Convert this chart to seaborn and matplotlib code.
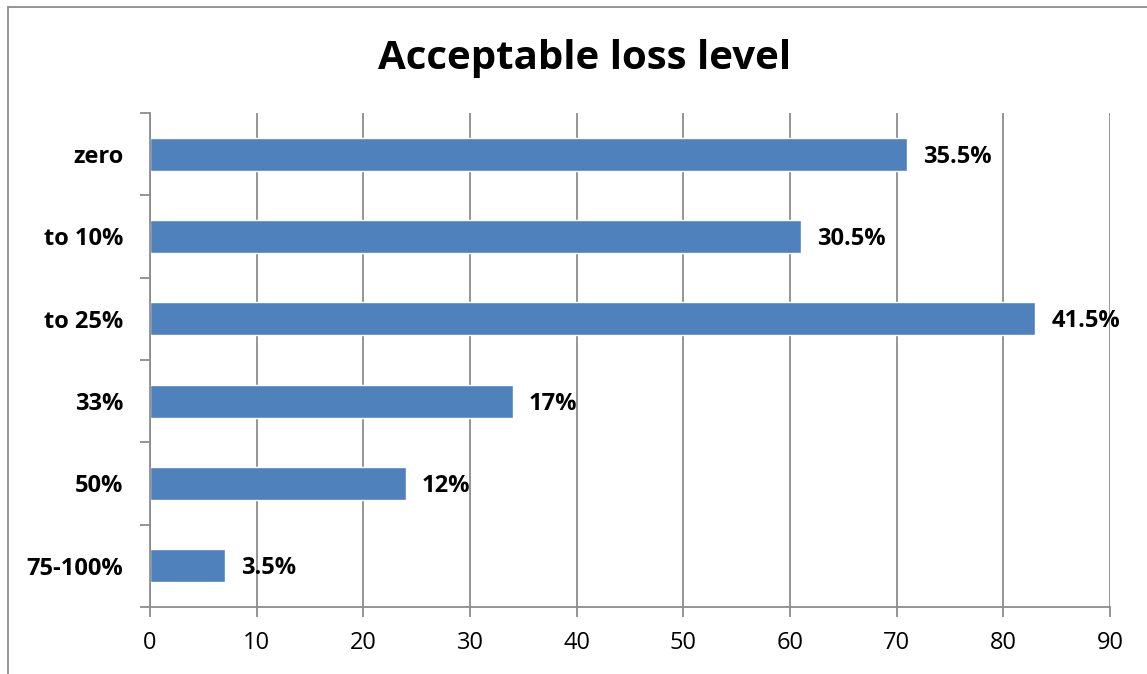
import matplotlib
matplotlib.use("Agg")
import matplotlib.pyplot as plt
from matplotlib.patches import Rectangle
import seaborn as sns
import pandas as pd

categories = ["zero", "to 10%", "to 25%", "33%", "50%", "75-100%"]
values = [71, 61, 83, 34, 24, 7]
labels = ["35.5%", "30.5%", "41.5%", "17%", "12%", "3.5%"]
xticks = [0, 10, 20, 30, 40, 50, 60, 70, 80, 90]

sns.set_theme(style="white")
plt.rcParams["font.family"] = ["Open Sans", "DejaVu Sans"]
plt.rcParams["text.color"] = "black"
plt.rcParams["xtick.color"] = "black"
plt.rcParams["ytick.color"] = "black"

W, H = 1147, 674
fig = plt.figure(figsize=(W / 100, H / 100), dpi=100)
ax = fig.add_axes([150 / W, 1 - 607 / H, 960 / W, 494 / H])

df = pd.DataFrame({"level": categories, "value": values})
sns.barplot(data=df, y="level", x="value", order=categories, color="#4F81BD",
            saturation=1, width=0.4, ax=ax, orient="h")

grid_c = "#8c8c8c"
fs = 17
ax.set_xlim(0, 90)
ax.set_ylim(len(categories) - 0.5, -0.5)
ax.set_xticks(xticks)
ax.set_xticklabels([str(t) for t in xticks], fontsize=fs)
ax.xaxis.grid(True, color=grid_c, linewidth=1.3)
ax.set_axisbelow(True)
ax.set_xlabel("")
ax.set_ylabel("")

# category labels centered on bars, ticks at band boundaries
ax.set_yticks(range(len(categories)))
ax.set_yticklabels(categories, fontsize=fs, fontweight="bold")
ax.set_yticks([i - 0.5 for i in range(len(categories) + 1)], minor=True)
ax.tick_params(axis="y", which="major", left=True, length=0, pad=19)
ax.tick_params(axis="y", which="minor", left=True, length=7, width=1.3,
               color=grid_c, direction="out")
ax.tick_params(axis="x", which="major", bottom=True, length=7, width=1.3,
               color=grid_c, labelcolor="black", direction="out", pad=10, labelsize=fs)

for s in ["top", "right"]:
    ax.spines[s].set_visible(False)
for s in ["left", "bottom"]:
    ax.spines[s].set_color(grid_c)
    ax.spines[s].set_linewidth(1.3)

for i, (v, lab) in enumerate(zip(values, labels)):
    ax.text(v + 1.5, i + 0.03, lab, va="center", ha="left", fontsize=fs, fontweight="bold",
            color="black")

fig.text(585 / W, 1 - 58 / H, "Acceptable loss level", ha="center", va="center",
         fontsize=29, fontweight="bold", color="black")

# chart area frame
fig.patches.append(Rectangle((8 / W, -0.1), 1.2, 1 - 7 / H + 0.1, transform=fig.transFigure,
                             fill=False, edgecolor="#8c8c8c", linewidth=1.3))

fig.savefig("out.png", dpi=100)
